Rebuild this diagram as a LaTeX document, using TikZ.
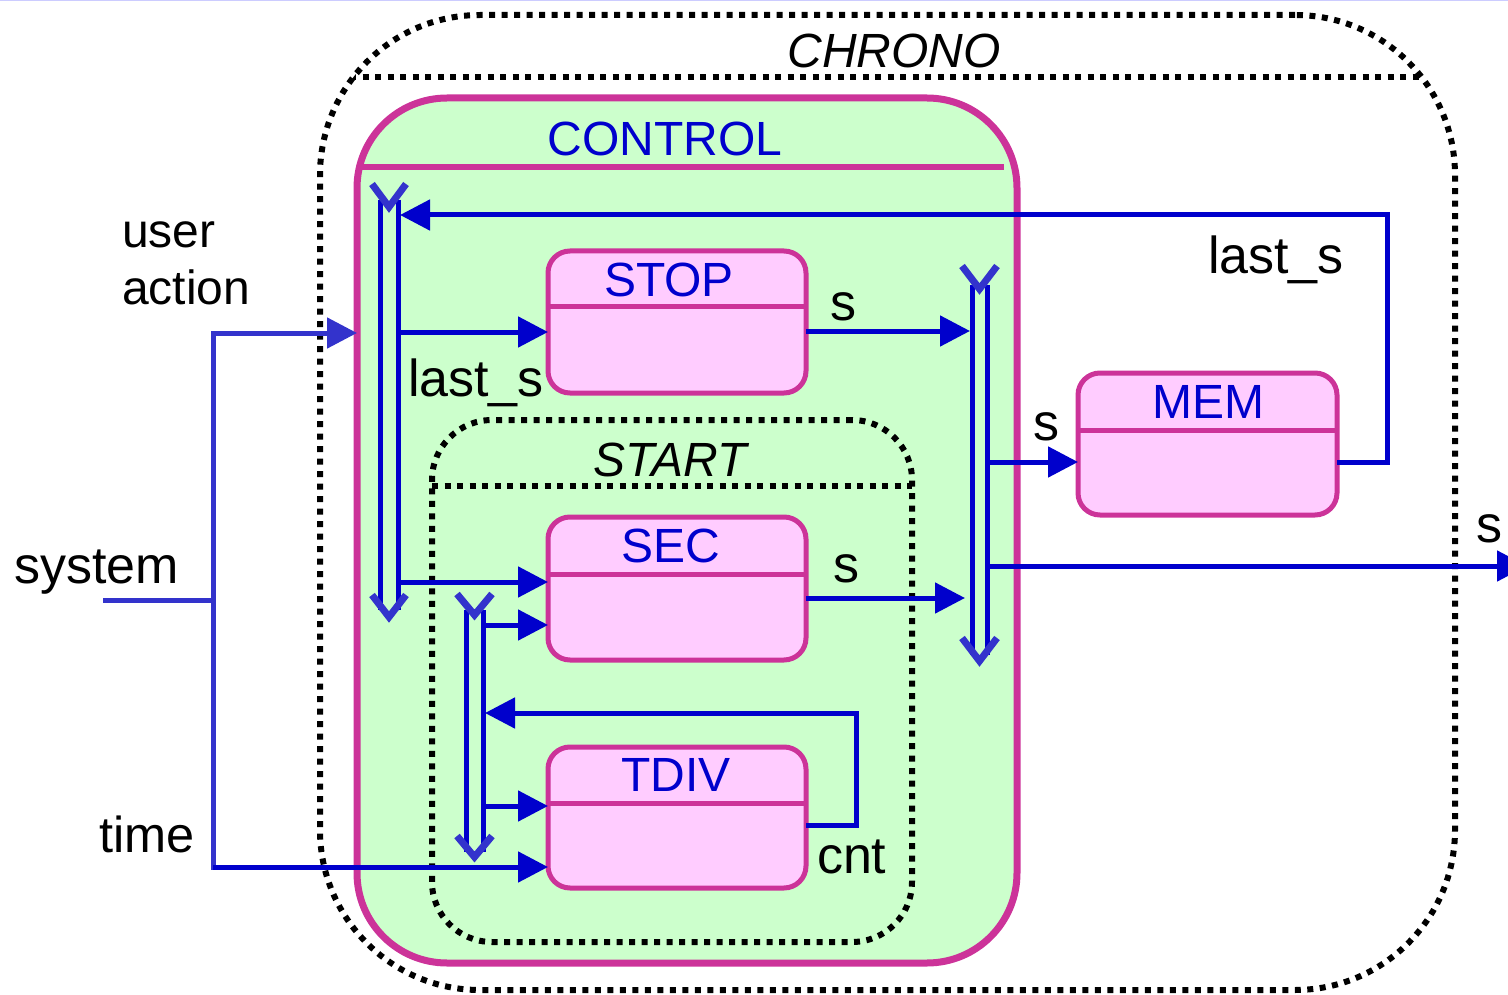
\documentclass[tikz,border=0pt]{standalone}
\usepackage{fontspec}
\setmainfont{Liberation Sans}
\usetikzlibrary{arrows.meta}
\definecolor{cmag}{HTML}{CC3399}
\definecolor{cgreen}{HTML}{CCFFCC}
\definecolor{cpink}{HTML}{FFCCFF}
\definecolor{cblue}{HTML}{0000CC}
\definecolor{clblue}{HTML}{3333CC}
\definecolor{ctop}{HTML}{CCCCFF}
\begin{document}
\begin{tikzpicture}[x=1pt,y=-1pt,
 every node/.style={inner sep=0pt, outer sep=0pt, font=\fontsize{48}{57}\selectfont},
 dotbox/.style={draw=black, line width=6pt, dash pattern=on 6pt off 6.5pt},
 ctrlbox/.style={rectangle, draw=cmag, fill=cgreen, line width=7pt, rounded corners=90pt, minimum width=660pt, minimum height=865pt},
 statebox/.style={rectangle, draw=cmag, fill=cpink, line width=5pt, rounded corners=22pt, minimum width=258pt, minimum height=142pt},
 sepline/.style={draw=cmag, line width=5pt},
 tip/.style={-{Triangle[length=30pt,width=30pt]}},
 conn/.style={draw=cblue, line width=5pt, tip},
 syswire/.style={draw=clblue, line width=5pt},
 busline/.style={draw=cblue, line width=5pt},
 busv/.style={draw=clblue, line width=7pt},
 title/.style={text=cblue, anchor=base},
 ititle/.style={text=black, anchor=base, font=\fontsize{48}{57}\selectfont\itshape},
 lbl/.style={text=black, anchor=base west},
 biglbl/.style={text=black, anchor=base west, font=\fontsize{52}{60}\selectfont},
 slbl/.style={text=black, anchor=base, font=\fontsize{52}{60}\selectfont},
]
\useasboundingbox (0,0) rectangle (1508,995);
\draw[ctop, line width=3pt] (0,0) -- (1508,0);

% CHRONO
\node[dotbox, rectangle, rounded corners=160pt, minimum width=1135pt, minimum height=975pt] (chrono) at (887.5,502.5) {};
\begin{scope}
 \clip[rounded corners=160pt] (320,15) rectangle (1455,990);
 \draw[dotbox] (300,77) -- (1460,77);
\end{scope}
\node[ititle] (tchrono) at (894,68) {CHRONO};

% CONTROL
\node[ctrlbox] (control) at (687,530.5) {};
\begin{scope}
 \clip[rounded corners=90pt] (357,98) rectangle (1017,963);
 \draw[sepline, line width=6pt] (300,167) -- (1004,167);
\end{scope}
\node[title] (tcontrol) at (665,156) {CONTROL};

% START
\node[dotbox, rectangle, rounded corners=60pt, minimum width=480pt, minimum height=522pt] (start) at (672,681) {};
\draw[dotbox] (start.west |- 0,486) -- (start.east |- 0,486);
\node[ititle] (tstart) at (670,476) {START};

% state boxes
\node[statebox] (stop) at (677,322) {};
\draw[sepline] ([yshift=-55pt]stop.north west) -- ([yshift=-55pt]stop.north east);
\node[title] (tstop) at (669,296) {STOP};

\node[statebox, minimum height=143pt] (sec) at (677,588.5) {};
\draw[sepline] ([yshift=-57pt]sec.north west) -- ([yshift=-57pt]sec.north east);
\node[title] (tsec) at (671,562) {SEC};

\node[statebox, minimum height=141pt] (tdiv) at (677,817.5) {};
\draw[sepline] ([yshift=-56pt]tdiv.north west) -- ([yshift=-56pt]tdiv.north east);
\node[title] (ttdiv) at (676,791) {TDIV};

\node[statebox, minimum width=259pt] (mem) at (1207.5,444) {};
\draw[sepline] ([yshift=-57pt]mem.north west) -- ([yshift=-57pt]mem.north east);
\node[title] (tmem) at (1208,418) {MEM};

% buses
\coordinate (b1r) at (398,0);
\coordinate (b2r) at (483,0);
\coordinate (b3l) at (970,0);
\coordinate (b3r) at (987,0);
\coordinate (fb) at (1387,0);
\coordinate (cntc) at (856,0);
\coordinate (sysj) at (213,0);

\draw[busline] (380,200) -- (380,610);
\draw[busline] (398,200) -- (398,610);
\draw[busv] (372,184) -- (389,207) -- (406,184);
\draw[busv] (372,595) -- (389,617) -- (406,595);

\draw[busline] (466,610) -- (466,852);
\draw[busline] (483,610) -- (483,852);
\draw[busv] (457,594) -- (474.5,615) -- (492,594);
\draw[busv] (457,836) -- (474.5,857) -- (492,836);

\draw[busline] (972,285) -- (972,655);
\draw[busline] (987,285) -- (987,655);
\draw[busv] (962,266) -- (979.5,289) -- (997,266);
\draw[busv] (962,638) -- (979.5,661) -- (997,638);

% connectors
\draw[conn] (b1r |- 0,332) -- (stop.west |- 0,332);
\draw[conn] (stop.east |- 0,331) -- (b3l |- 0,331);
\draw[conn] (b3r |- 0,462) -- (mem.west |- 0,462);
\coordinate (out) at (1527,566);
\draw[conn] (b3r |- 0,566) -- (out);
\draw[conn] (sec.east |- 0,598) -- (965,598);
\draw[conn] (b1r |- 0,582) -- (sec.west |- 0,582);
\draw[conn] (b2r |- 0,625) -- (sec.west |- 0,625);
\draw[conn] (tdiv.east |- 0,825) -- (cntc |- 0,825) -- (cntc |- 0,713) -- (485,713);
\draw[conn] (b2r |- 0,806) -- (tdiv.west |- 0,806);
\draw[conn] (mem.east |- 0,462) -- (fb |- 0,462) -- (fb |- 0,215) -- (400,215);

% system inputs
\coordinate (syin) at (103,600);
\draw[syswire] (syin) -- (sysj |- syin);
\draw[syswire, line cap=rect] (sysj |- 0,333) -- (sysj |- 0,867);
\draw[syswire, tip] (sysj |- 0,333) -- (control.west |- 0,333);
\draw[conn] (sysj |- 0,867) -- (tdiv.west |- 0,867);

% labels
\node[lbl] (tuser) at (122,248) {user};
\node[lbl] (taction) at (122,305) {action};
\node[biglbl] (tsystem) at (14,583) {system};
\node[biglbl, font=\fontsize{50.5}{60}\selectfont] (ttime) at (99,852) {time};
\node[biglbl] (tlast1) at (408,396) {last\_s};
\node[biglbl] (tlast2) at (1208,274) {last\_s};
\node[slbl] (ts1) at (843,320) {s};
\node[slbl] (ts2) at (1046,440) {s};
\node[slbl] (ts3) at (846,582) {s};
\node[slbl] (ts4) at (1489,542) {s};
\node[biglbl] (tcnt) at (817,873) {cnt};
\end{tikzpicture}
\end{document}
